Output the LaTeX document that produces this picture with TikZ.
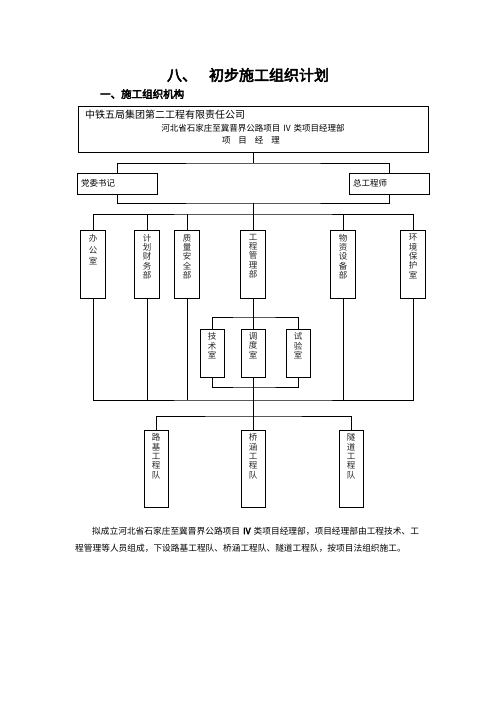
\documentclass[tikz,border=0pt]{standalone}
\usepackage{fontspec}
\newfontfamily\cjk[AutoFakeBold=3.5]{Noto Sans CJK SC}
\tikzset{
  box/.style={draw,line width=0.8pt,fill=white,inner sep=0pt},
  dept/.style={box,minimum width=25pt,minimum height=68pt,anchor=north},
  small/.style={box,minimum width=24pt,minimum height=48pt,anchor=north},
  team/.style={box,minimum width=24pt,minimum height=77pt,anchor=north},
  side/.style={box,minimum width=80pt,minimum height=21pt,text width=72pt,align=left,
    font=\cjk\fontsize{8.5}{10}\selectfont},
  vlab/.style={anchor=north,inner sep=0pt,align=center,text=black!85,font=\cjk\fontsize{8.5}{9.3}\selectfont},
  txt/.style={inner sep=0pt,font=\cjk\fontsize{8.5}{10}\selectfont},
  link/.style={draw,line width=0.8pt}
}
\begin{document}
\begin{tikzpicture}[x=1pt,y=-1pt]
  \useasboundingbox[fill=white] (0,0) rectangle (496,702);
  % titre
  \node[font=\cjk\bfseries\fontsize{15}{15}\selectfont] (title) at (248,75) {八、\hspace{12pt}初步施工组织计划};
  \node[anchor=west,inner sep=0pt,font=\cjk\bfseries\fontsize{10.5}{10.5}\selectfont] (head) at (100,94) {一、施工组织机构};
  % direction
  \node[box,minimum width=350pt,minimum height=46pt] (pm) at (253,129) {};
  \node[txt,anchor=west,font=\cjk\fontsize{10}{10}\selectfont] (pm-a) at (85,115) {中铁五局集团第二工程有限责任公司};
  \node[txt] (pm-b) at (253,128) {河北省石家庄至冀晋界公路项目\hspace{3pt}IV\hspace{3pt}类项目经理部};
  \node[txt] (pm-c) at (251,140) {项\hspace{8pt}目\hspace{8pt}经\hspace{8pt}理};
  \node[side] (dw) at (117,183.5) {党委书记};
  \node[side] (zg) at (389,183.5) {总工程师};
  % services
  \foreach \x/\name/\txt in {93/bgs/办\\[3pt]公\\[2pt]室, 147/jh/计\\划\\财\\务\\部, 187/zl/质\\量\\安\\全\\部,
      253/gc/工\\程\\管\\理\\部, 343/wz/物\\资\\设\\备\\部, 413/hj/环\\境\\保\\护\\室}{
    \node[dept] (\name) at (\x,230) {};
    \node[vlab] (\name-t) at ([yshift=-4pt]\name.north) {\txt};
  }
  \foreach \x/\name/\txt in {212/js/技\\术\\室, 253/dd/调\\度\\室, 298/sy/试\\验\\室}{
    \node[small] (\name) at (\x,328.5) {};
    \node[vlab] (\name-t) at ([yshift=-4pt]\name.north) {\txt};
  }
  \foreach \x/\name/\txt in {156/lj/路\\基\\工\\程\\队, 253/qh/桥\\涵\\工\\程\\队, 351/sd/隧\\道\\工\\程\\队}{
    \node[team] (\name) at (\x,429.5) {};
    \node[vlab] (\name-t) at ([yshift=-4pt]\name.north) {\txt};
  }
  % liaisons
  \coordinate (b1) at (253,163);
  \coordinate (b2) at (253,203);
  \coordinate (b3) at (253,214);
  \coordinate (b4) at (253,400);
  \coordinate (b5) at (253,317);
  \coordinate (b6) at (253,387);
  \coordinate (b7) at (253,416);
  \path[link] (pm.south) -- (b1);
  \path[link] (dw.north) |- (b1) -| (zg.north);
  \path[link] (dw.south) |- (b2) -| (zg.south);
  \path[link] (b2) -- (b3);
  \path[link] (bgs.north) |- (b3) -| (hj.north);
  \foreach \name in {jh, zl, gc, wz}
    \path[link] (\name.north) -- (\name.north |- b3);
  \path[link] (bgs.south) |- (b4) -| (hj.south);
  \foreach \name in {jh, zl, wz}
    \path[link] (\name.south) -- (\name.south |- b4);
  \path[link] (gc.south) -- (dd.north);
  \path[link] (js.north) |- (b5) -| (sy.north);
  \path[link] (js.south) |- (b6) -| (sy.south);
  \path[link] (dd.south) -- (qh.north);
  \path[link] (lj.north) |- (b7) -| (sd.north);
  % texte
  \node[txt,anchor=west,font=\cjk\fontsize{8.7}{10}\selectfont] (para-a) at (92,531) {拟成立河北省石家庄至冀晋界公路项目\hspace{3pt}\textbf{IV}\hspace{3pt}类项目经理部，项目经理部由工程技术、工};
  \node[txt,anchor=west,font=\cjk\fontsize{8.7}{10}\selectfont] (para-b) at (75,548) {程管理等人员组成，下设路基工程队、桥涵工程队、隧道工程队，按项目法组织施工。};
\end{tikzpicture}
\end{document}
